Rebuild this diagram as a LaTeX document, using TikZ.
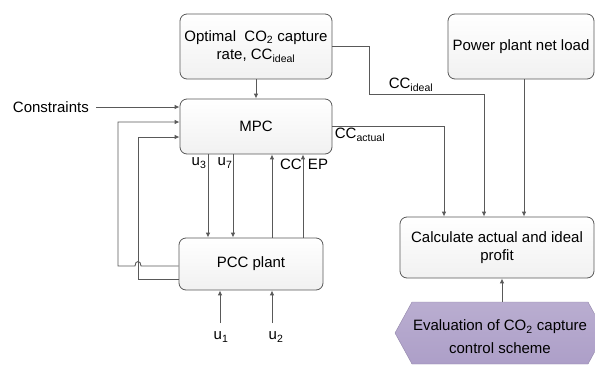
\documentclass[tikz,border=0pt]{standalone}
\usepackage{fontspec}
\setmainfont{Liberation Sans}
\usetikzlibrary{arrows.meta,calc}
\definecolor{ln}{HTML}{595959}
\definecolor{purp}{HTML}{AD9FC8}
\begin{document}
\begin{tikzpicture}[x=1pt,y=-1pt,
  box/.style={draw=ln, line width=0.8pt, rounded corners=7pt, top color=white, bottom color=gray!11,
    font=\fontsize{15}{18}\selectfont, align=center, inner sep=0pt},
  arr/.style={draw=ln, line width=0.9pt, -{Latex[length=5pt,width=4.5pt]}},
  lab/.style={font=\fontsize{15}{17}\selectfont, inner sep=0pt}]
\useasboundingbox (0,0) rectangle (595,365);
% boxes
\node[box, minimum width=152pt, minimum height=65pt] (opt) at (256,46.5)
  {Optimal~ CO\textsubscript{2} capture\\rate, CC\textsubscript{ideal}};
\node[box, minimum width=152pt, minimum height=55pt] (mpc) at (256,126.5) {MPC};
\node[box, minimum width=144pt, minimum height=52pt] (pcc) at (251,264) {PCC plant};
\node[box, minimum width=146pt, minimum height=65pt] (pwr) at (521,46.5) {Power plant net load};
\node[box, minimum width=194pt, minimum height=61pt] (calc) at (497,247.5)
  {Calculate actual and ideal\\profit};
% evaluation pointer shape
\path[top color=purp!85!white, bottom color=purp, draw=purp!85!black, line width=0.4pt]
  (395,333) -- (412,302) -- (588,302) -- (605,333) -- (588,364) -- (412,364) -- cycle;
\node[inner sep=0pt, minimum width=176pt, minimum height=62pt, align=center,
  font=\fontsize{15}{23}\selectfont, text depth=0pt] (eval) at (500,333) {};
\node[inner sep=0pt, align=center, font=\fontsize{15}{23}\selectfont] (evaltext) at (500,337)
  {Evaluation of CO\textsubscript{2} capture\\control scheme};
% x positions
\coordinate (xu3) at (208,0);
\coordinate (xu7) at (233,0);
\coordinate (xcc) at (272,0);
\coordinate (xep) at (303,0);
\coordinate (xu1) at (220,0);
\coordinate (xu2) at (272,0);
\coordinate (xci) at (484,0);
\coordinate (xca) at (444,0);
\coordinate (xpw) at (524,0);
\coordinate (xev) at (502,0);
\coordinate (ybot) at (0,323);
% labels
\node[lab, anchor=east] (cons) at (89,107) {Constraints};
\node[lab] (lu3) at (199,163) {u\textsubscript{3}};
\node[lab] (lu7) at (225,163) {u\textsubscript{7}};
\node[lab] (lcc) at (291,164) {CC};
\node[lab] (lep) at (318,164) {EP};
\node[lab] (lu1) at (221,337) {u\textsubscript{1}};
\node[lab] (lu2) at (276,337) {u\textsubscript{2}};
\node[lab] (lci) at (411,85) {CC\textsubscript{ideal}};
\node[lab] (lca) at (360,135) {CC\textsubscript{actual}};
% connectors
\draw[arr] (opt) -- (mpc);
\draw[arr, shorten <=7pt] (cons.east) -- (cons.east -| mpc.west);
\draw[arr] ($(pcc.west)+(0,2)$) -- (141,266) .. controls (141,260) and (135,260) .. (135,266)
  -- (118,266) -- (118,122) -- ($(mpc.west)+(0,-4.5)$);
\draw[arr] ($(pcc.west)+(0,15)$) -- (138,279) -- (138,137) -- ($(mpc.west)+(0,10.5)$);
\draw[arr] (mpc.south -| xu3) -- (pcc.north -| xu3);
\draw[arr] (mpc.south -| xu7) -- (pcc.north -| xu7);
\draw[arr] (pcc.north -| xcc) -- (mpc.south -| xcc);
\draw[arr] (pcc.north -| xep) -- (mpc.south -| xep);
\draw[arr] (ybot -| xu1) -- (pcc.south -| xu1);
\draw[arr] (ybot -| xu2) -- (pcc.south -| xu2);
\draw[arr] (opt.east) -| (369,94) -| (calc.north -| xci);
\draw[arr] (mpc.east) -| (calc.north -| xca);
\draw[arr] (pwr.south -| xpw) -- (calc.north -| xpw);
\draw[arr] (eval.north -| xev) -- (calc.south -| xev);
\end{tikzpicture}
\end{document}
